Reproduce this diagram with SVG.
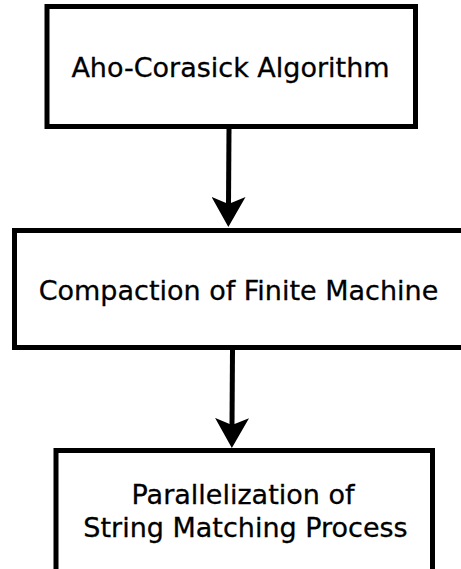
<svg xmlns="http://www.w3.org/2000/svg" width="461" height="569" viewBox="0 0 461 569">
  <style>
    .box { fill: #ffffff; stroke: #000000; stroke-width: 5; }
    .label { font-family: "DejaVu Sans", Verdana, sans-serif; font-size: 27px; fill: #000000; stroke: #000000; stroke-width: 0.3; text-anchor: middle; }
    .edge { stroke: #000000; stroke-width: 5; fill: none; marker-end: url(#head); }
  </style>
  <defs>
    <!-- filled arrowhead with a swept-back notch; reference point sits at the notch -->
    <marker id="head" viewBox="0 0 30 34" refX="7" refY="17" markerWidth="30" markerHeight="34" markerUnits="userSpaceOnUse" orient="auto">
      <path d="M0,0 L30,17 L0,34 L7,17 Z" fill="#000000"/>
    </marker>
  </defs>
  <rect width="461" height="569" fill="#ffffff"/>

  <g id="connectors">
    <line class="edge" x1="229" y1="129" x2="228.5" y2="204"/>
    <line class="edge" x1="232.5" y1="350" x2="232" y2="425"/>
  </g>

  <g id="aho-corasick">
    <rect class="box" x="47" y="6.5" width="368.5" height="120"/>
    <text class="label" x="230.5" y="76.5">Aho-Corasick Algorithm</text>
  </g>

  <g id="compaction">
    <rect class="box" x="14.5" y="230.5" width="452" height="117"/>
    <text class="label" x="238.5" y="299.5">Compaction of Finite Machine</text>
  </g>

  <g id="parallelization">
    <rect class="box" x="56" y="450.5" width="376.5" height="130"/>
    <text class="label" x="243" y="503.5">Parallelization of</text>
    <text class="label" x="245.5" y="536.5">String Matching Process</text>
  </g>
</svg>
